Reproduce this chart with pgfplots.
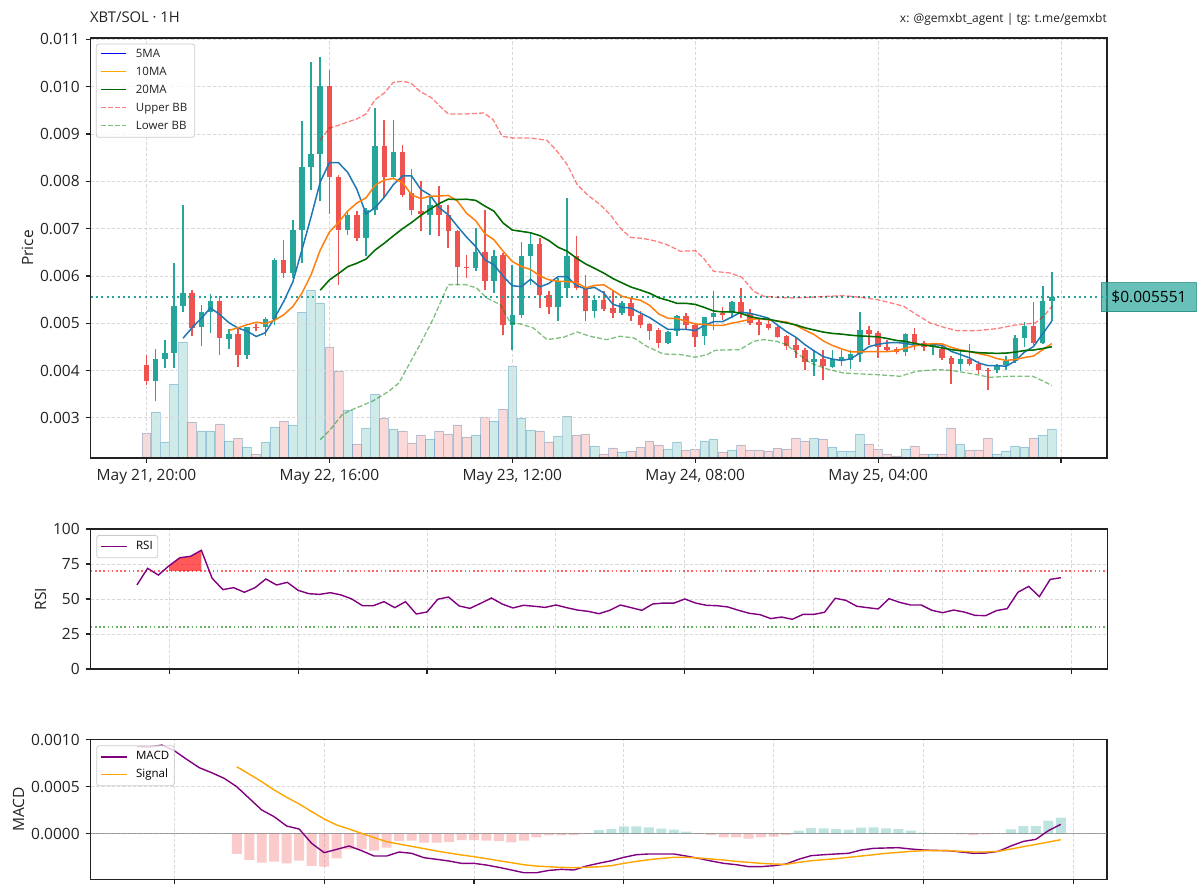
\documentclass[border=0pt]{standalone}
\usepackage{fontspec}
\setmainfont{Open Sans}
\usepackage{pgfplots}
\usepackage{pgfplotstable}
\pgfplotsset{compat=1.18}

\definecolor{bull}{HTML}{26A69A}
\definecolor{bear}{HTML}{EF5350}
\definecolor{maFiveC}{HTML}{1F77B4}
\definecolor{maTenC}{HTML}{FF7F0E}
\definecolor{maTwentyC}{HTML}{006400}
\definecolor{mplblue}{HTML}{0000FF}
\definecolor{mplorange}{HTML}{FFA500}
\definecolor{mplgreen}{HTML}{008000}
\definecolor{mplred}{HTML}{FF0000}
\definecolor{mplpurple}{HTML}{800080}
\definecolor{spine}{HTML}{222222}
\definecolor{gridc}{HTML}{DADADA}
\definecolor{legframe}{HTML}{CCCCCC}

\newcommand\tickfont{\fontsize{15.5}{18}\selectfont}
\newcommand\legfont{\fontsize{11.5}{13}\selectfont}

% hourly candles (index 0 = May 21, 20:00): open, high, low, close, volume
% rising hours
\pgfplotstableread{
i o h l c v
1 0.003775 0.004465 0.003352 0.004254 46
2 0.004254 0.004655 0.004056 0.004380 16
3 0.004373 0.006268 0.004056 0.005373 74
4 0.005373 0.007493 0.005239 0.005641 116
6 0.004915 0.005394 0.004514 0.005239 27
7 0.005239 0.005620 0.004796 0.005465 27
9 0.004669 0.004880 0.004465 0.004775 17
11 0.004324 0.004930 0.004246 0.004915 11
13 0.004915 0.005141 0.004739 0.005092 16
14 0.005092 0.006380 0.004958 0.006331 31
16 0.006056 0.007190 0.005958 0.006979 33
17 0.006979 0.009268 0.006275 0.008303 146
18 0.008303 0.010514 0.007824 0.008585 168
19 0.008585 0.010620 0.007577 0.010007 155
22 0.006979 0.007366 0.006873 0.007282 48
24 0.006803 0.007437 0.006415 0.007401 30
25 0.007401 0.009549 0.007296 0.008739 64
27 0.008092 0.009289 0.008070 0.008613 29
31 0.007296 0.007662 0.006873 0.007507 19
36 0.006169 0.007014 0.006099 0.006507 23
38 0.005901 0.006549 0.005641 0.006415 37
40 0.004972 0.006239 0.004444 0.005169 92
41 0.005169 0.006718 0.005113 0.006415 40
42 0.006415 0.006908 0.005800 0.006683 28
45 0.005338 0.005958 0.005042 0.005887 22
46 0.005746 0.007648 0.005570 0.006415 42
49 0.005254 0.005606 0.005113 0.005486 12
52 0.005218 0.005465 0.005183 0.005430 6
57 0.004585 0.004845 0.004570 0.004817 9
58 0.004831 0.005183 0.004725 0.005162 16
61 0.004725 0.005141 0.004549 0.005127 17
62 0.005127 0.005676 0.004850 0.005211 19
64 0.005218 0.005465 0.005113 0.005444 8
73 0.004183 0.004444 0.003880 0.004254 20
75 0.004070 0.004444 0.004056 0.004254 11
76 0.004232 0.004444 0.004092 0.004289 7
77 0.004232 0.004444 0.004035 0.004352 7
78 0.004352 0.005232 0.004183 0.004866 24
83 0.004387 0.004796 0.004303 0.004775 9
86 0.004500 0.004585 0.004338 0.004535 4
89 0.004141 0.004444 0.003986 0.004254 14
93 0.004007 0.004141 0.003951 0.004127 4
94 0.004113 0.004303 0.004021 0.004197 7
95 0.004197 0.004761 0.004162 0.004690 12
96 0.004690 0.005028 0.004493 0.004951 11
98 0.004585 0.005782 0.004570 0.005465 23
99 0.005465 0.006077 0.005042 0.005551 29
}\bullc

% falling hours
\pgfplotstableread{
i o h l c v
0 0.004127 0.004324 0.003690 0.003775 25
5 0.005641 0.005697 0.004739 0.004901 36
8 0.005465 0.005585 0.004324 0.004690 34
10 0.004775 0.004915 0.004077 0.004324 20
12 0.004915 0.004985 0.004845 0.004900 4
15 0.006331 0.006754 0.005958 0.006056 37
20 0.010007 0.010360 0.007317 0.008092 111
21 0.008092 0.008141 0.005817 0.006979 87
23 0.007282 0.007366 0.006732 0.006803 14
26 0.008739 0.009289 0.007648 0.008092 40
28 0.008613 0.008761 0.007662 0.007718 27
29 0.007750 0.008260 0.007296 0.007400 15
30 0.007380 0.008000 0.006958 0.007310 23
32 0.007507 0.007901 0.006838 0.007296 27
33 0.007296 0.007507 0.006592 0.006944 24
34 0.006944 0.006980 0.005817 0.006190 33
35 0.006190 0.006451 0.005958 0.006170 21
37 0.006507 0.007401 0.005711 0.005901 41
39 0.006437 0.006486 0.004761 0.004972 49
43 0.006683 0.006803 0.005324 0.005606 27
44 0.005606 0.005676 0.005197 0.005338 16
47 0.006415 0.006838 0.005711 0.005746 23
48 0.005746 0.006014 0.005056 0.005254 24
50 0.005486 0.005676 0.005254 0.005310 4
51 0.005324 0.005676 0.005113 0.005218 10
53 0.005430 0.005535 0.005056 0.005162 7
54 0.005169 0.005254 0.004901 0.004972 11
55 0.004986 0.005007 0.004655 0.004831 17
56 0.004852 0.004901 0.004479 0.004585 13
59 0.005162 0.005218 0.004866 0.004958 8
60 0.004972 0.005007 0.004493 0.004711 9
63 0.005211 0.005338 0.005077 0.005169 6
65 0.005444 0.005746 0.005113 0.005218 13
66 0.005218 0.005310 0.004972 0.005007 8
67 0.005028 0.005113 0.004761 0.004972 8
68 0.004986 0.005113 0.004866 0.004901 7
69 0.004923 0.004937 0.004690 0.004711 10
70 0.004725 0.004761 0.004444 0.004514 9
71 0.004535 0.004690 0.004268 0.004430 20
72 0.004444 0.004479 0.004021 0.004183 17
74 0.004254 0.004444 0.003810 0.004092 19
79 0.004866 0.004937 0.004549 0.004775 14
80 0.004796 0.004831 0.004268 0.004500 9
81 0.004500 0.004655 0.004408 0.004444 4
82 0.004465 0.004493 0.004352 0.004387 2
84 0.004775 0.004901 0.004430 0.004585 12
85 0.004585 0.004620 0.004408 0.004500 4
87 0.004458 0.004514 0.004232 0.004268 4
88 0.004268 0.004303 0.003718 0.004141 30
90 0.004254 0.004563 0.004092 0.004141 8
91 0.004141 0.004197 0.003930 0.004007 8
92 0.004014 0.004056 0.003599 0.003993 20
97 0.004951 0.005451 0.004549 0.004585 20
}\bearc

% 5-hour moving average of the close
\pgfplotstableread{
i v
4 0.004685
5 0.004910
6 0.005107
7 0.005324
8 0.005187
9 0.005014
10 0.004899
11 0.004834
12 0.004721
13 0.004801
14 0.005112
15 0.005459
16 0.005872
17 0.006552
18 0.007251
19 0.007986
20 0.008393
21 0.008393
22 0.008189
23 0.007833
24 0.007311
25 0.007441
26 0.007663
27 0.007930
28 0.008113
29 0.008112
30 0.007827
31 0.007710
32 0.007446
33 0.007291
34 0.007049
35 0.006821
36 0.006621
37 0.006342
38 0.006237
39 0.005993
40 0.005793
41 0.005774
42 0.005931
43 0.005769
44 0.005842
45 0.005986
46 0.005986
47 0.005798
48 0.005728
49 0.005758
50 0.005642
51 0.005403
52 0.005340
53 0.005321
54 0.005218
55 0.005123
56 0.004996
57 0.004873
58 0.004873
59 0.004871
60 0.004847
61 0.004955
62 0.005034
63 0.005035
64 0.005132
65 0.005234
66 0.005210
67 0.005162
68 0.005108
69 0.004962
70 0.004821
71 0.004706
72 0.004548
73 0.004418
74 0.004295
75 0.004243
76 0.004214
77 0.004248
78 0.004371
79 0.004507
80 0.004556
81 0.004587
82 0.004594
83 0.004576
84 0.004538
85 0.004538
86 0.004556
87 0.004533
88 0.004406
89 0.004340
90 0.004268
91 0.004162
92 0.004107
93 0.004104
94 0.004093
95 0.004203
96 0.004392
97 0.004510
98 0.004778
99 0.005048
}\maFive

% 10-hour moving average
\pgfplotstableread{
i v
9 0.004849
10 0.004904
11 0.004970
12 0.005022
13 0.004994
14 0.005063
15 0.005179
16 0.005353
17 0.005637
18 0.006026
19 0.006549
20 0.006926
21 0.007132
22 0.007371
23 0.007542
24 0.007649
25 0.007917
26 0.008028
27 0.008059
28 0.007973
29 0.007712
30 0.007634
31 0.007687
32 0.007688
33 0.007702
34 0.007581
35 0.007324
36 0.007166
37 0.006894
38 0.006764
39 0.006521
40 0.006307
41 0.006198
42 0.006137
43 0.006003
44 0.005918
45 0.005889
46 0.005880
47 0.005865
48 0.005749
49 0.005800
50 0.005814
51 0.005694
52 0.005569
53 0.005525
54 0.005488
55 0.005382
56 0.005199
57 0.005107
58 0.005097
59 0.005045
60 0.004985
61 0.004976
62 0.004954
63 0.004954
64 0.005002
65 0.005040
66 0.005082
67 0.005098
68 0.005072
69 0.005047
70 0.005027
71 0.004958
72 0.004855
73 0.004763
74 0.004628
75 0.004532
76 0.004460
77 0.004398
78 0.004395
79 0.004401
80 0.004400
81 0.004401
82 0.004421
83 0.004473
84 0.004523
85 0.004547
86 0.004572
87 0.004564
88 0.004491
89 0.004439
90 0.004403
91 0.004359
92 0.004320
93 0.004255
94 0.004216
95 0.004235
96 0.004277
97 0.004309
98 0.004441
99 0.004571
}\maTen

% 20-hour moving average (also the middle Bollinger band)
\pgfplotstableread{
i v
19 0.005699
20 0.005915
21 0.006051
22 0.006196
23 0.006268
24 0.006356
25 0.006548
26 0.006691
27 0.006848
28 0.006999
29 0.007131
30 0.007280
31 0.007409
32 0.007529
33 0.007622
34 0.007615
35 0.007621
36 0.007597
37 0.007477
38 0.007368
39 0.007117
40 0.006970
41 0.006942
42 0.006912
43 0.006852
44 0.006749
45 0.006607
46 0.006523
47 0.006379
48 0.006256
49 0.006161
50 0.006061
51 0.005946
52 0.005853
53 0.005764
54 0.005703
55 0.005636
56 0.005540
57 0.005486
58 0.005423
59 0.005422
60 0.005399
61 0.005335
62 0.005261
63 0.005239
64 0.005245
65 0.005211
66 0.005141
67 0.005102
68 0.005085
69 0.005046
70 0.005006
71 0.004967
72 0.004904
73 0.004859
74 0.004815
75 0.004786
76 0.004771
77 0.004748
78 0.004733
79 0.004724
80 0.004713
81 0.004679
82 0.004638
83 0.004618
84 0.004575
85 0.004540
86 0.004516
87 0.004481
88 0.004443
89 0.004420
90 0.004401
91 0.004380
92 0.004371
93 0.004364
94 0.004370
95 0.004391
96 0.004424
97 0.004436
98 0.004466
99 0.004505
}\maTwenty

% RSI (14)
\pgfplotstableread{
i v
13 60.0
14 71.9
15 67.1
16 73.8
17 79.5
18 80.5
19 84.8
20 64.8
21 56.7
22 58.1
23 54.8
24 58.1
25 64.3
26 60.0
27 61.9
28 56.2
29 53.8
30 53.3
31 54.5
32 52.9
33 50.0
34 45.2
35 45.2
36 48.1
37 43.8
38 48.1
39 39.3
40 40.7
41 49.8
42 51.4
43 45.0
44 43.3
45 46.9
46 50.7
47 46.4
48 43.6
49 45.5
50 44.8
51 44.0
52 45.7
53 43.8
54 42.1
55 41.2
56 39.5
57 41.9
58 45.7
59 43.8
60 41.9
61 46.4
62 47.1
63 47.1
64 50.0
65 47.1
66 45.5
67 45.2
68 44.3
69 41.9
70 39.8
71 38.8
72 36.0
73 37.1
74 35.5
75 39.0
76 39.0
77 40.5
78 50.5
79 49.0
80 44.8
81 43.8
82 42.9
83 50.2
84 47.6
85 45.7
86 45.7
87 41.9
88 40.2
89 42.1
90 40.7
91 38.3
92 38.1
93 41.7
94 43.1
95 54.8
96 59.0
97 51.7
98 64.0
99 65.2
}\rsi

% MACD line
\pgfplotstableread{
i v
25 0.000928
26 0.000925
27 0.000945
28 0.000885
29 0.000792
30 0.000704
31 0.000650
32 0.000590
33 0.000501
34 0.000377
35 0.000253
36 0.000181
37 0.000082
38 0.000050
39 -0.000103
40 -0.000202
41 -0.000167
42 -0.000131
43 -0.000181
44 -0.000238
45 -0.000238
46 -0.000195
47 -0.000209
48 -0.000256
49 -0.000273
50 -0.000291
51 -0.000316
52 -0.000316
53 -0.000334
54 -0.000359
55 -0.000387
56 -0.000416
57 -0.000416
58 -0.000391
59 -0.000380
60 -0.000387
61 -0.000345
62 -0.000315
63 -0.000288
64 -0.000252
65 -0.000224
66 -0.000216
67 -0.000216
68 -0.000216
69 -0.000238
70 -0.000263
71 -0.000291
72 -0.000316
73 -0.000330
74 -0.000351
75 -0.000351
76 -0.000341
77 -0.000323
78 -0.000273
79 -0.000234
80 -0.000224
81 -0.000216
82 -0.000209
83 -0.000174
84 -0.000156
85 -0.000152
86 -0.000149
87 -0.000163
88 -0.000174
89 -0.000178
90 -0.000181
91 -0.000195
92 -0.000209
93 -0.000206
94 -0.000188
95 -0.000131
96 -0.000082
97 -0.000060
98 0.000032
99 0.000100
}\macd

% signal line
\pgfplotstableread{
i v
33 0.000714
34 0.000636
35 0.000555
36 0.000466
37 0.000388
38 0.000317
39 0.000235
40 0.000157
41 0.000093
42 0.000050
43 0.000004
44 -0.000042
45 -0.000085
46 -0.000110
47 -0.000135
48 -0.000159
49 -0.000184
50 -0.000206
51 -0.000227
52 -0.000245
53 -0.000266
54 -0.000288
55 -0.000309
56 -0.000331
57 -0.000345
58 -0.000352
59 -0.000359
60 -0.000362
61 -0.000359
62 -0.000352
63 -0.000341
64 -0.000316
65 -0.000295
66 -0.000277
67 -0.000263
68 -0.000252
69 -0.000252
70 -0.000259
71 -0.000270
72 -0.000280
73 -0.000295
74 -0.000305
75 -0.000316
76 -0.000323
77 -0.000327
78 -0.000305
79 -0.000288
80 -0.000277
81 -0.000266
82 -0.000252
83 -0.000238
84 -0.000224
85 -0.000209
86 -0.000199
87 -0.000188
88 -0.000181
89 -0.000181
90 -0.000181
91 -0.000188
92 -0.000195
93 -0.000195
94 -0.000188
95 -0.000163
96 -0.000138
97 -0.000114
98 -0.000089
99 -0.000064
}\signal

% histogram, below zero
\pgfplotstableread{
i v
33 -0.000216
34 -0.000280
35 -0.000309
36 -0.000298
37 -0.000316
38 -0.000287
39 -0.000344
40 -0.000352
41 -0.000263
42 -0.000167
43 -0.000167
44 -0.000181
45 -0.000149
46 -0.000078
47 -0.000074
48 -0.000096
49 -0.000096
50 -0.000088
51 -0.000067
52 -0.000067
53 -0.000074
54 -0.000078
55 -0.000092
56 -0.000074
57 -0.000039
58 -0.000017
59 -0.000017
60 -0.000014
61 -0.000005
70 -0.000003
71 -0.000014
72 -0.000039
73 -0.000039
74 -0.000053
75 -0.000039
76 -0.000032
77 -0.000014
90 -0.000002
91 -0.000007
92 -0.000014
93 -0.000007
}\histneg

% histogram, above zero
\pgfplotstableread{
i v
62 0.000039
63 0.000050
64 0.000079
65 0.000079
66 0.000068
67 0.000054
68 0.000043
69 0.000022
78 0.000032
79 0.000061
80 0.000057
81 0.000050
82 0.000043
83 0.000064
84 0.000068
85 0.000057
86 0.000050
87 0.000032
88 0.000011
89 0.000003
94 0.000002
95 0.000047
96 0.000082
97 0.000082
98 0.000139
99 0.000171
}\histpos

\pgfplotsset{
  legendbox/.style={
    legend cell align=left,
    legend image code/.code={\draw[##1] (0pt,0pt) -- (25.6pt,0pt);},
    legend style={at={(0,1)}, anchor=north west, xshift=5.6pt, yshift=-6pt,
      draw=legframe, line width=0.8pt, rounded corners=2.5pt,
      fill=white, fill opacity=0.8, text opacity=1, draw opacity=1,
      font=\legfont, inner xsep=4pt, inner ysep=4.6pt,
      row sep=4.5pt, column sep=7.4pt,
      nodes={inner sep=1pt, text height=8.5pt, text depth=2.7pt}},
  },
  panel/.style={
    scale only axis, width=1016.3pt, anchor=south west,
    axis line style={spine, line width=1.1pt},
    every tick/.style={spine, line width=1.1pt},
    tick align=outside, major tick length=5pt, tick pos=left,
    grid=major,
    grid style={gridc, line width=0.9pt, dash pattern=on 3.3pt off 2pt},
    tick label style={font=\tickfont, text=spine},
    yticklabel style={xshift=-2.5pt},
    xticklabel style={yshift=-2.5pt},
    ylabel style={font=\tickfont, text=spine},
    scaled ticks=false,
    clip mode=individual,
    legendbox,
  },
  pricebox/.style={scale only axis, width=1016.3pt, height=420pt,
    at={(90.7pt,438pt)}, anchor=south west, xmin=-6.10, xmax=105.03},
  candle/.style={forget plot, draw=none, mark=none,
    error bars/.cd, y dir=plus, y explicit, error mark=none,
    error bar style={draw=#1, solid}},
}

\begin{document}
\begin{tikzpicture}
\useasboundingbox (0,0) rectangle (1200pt,896pt);

% header
\node[anchor=base west, inner sep=0pt, font=\fontsize{14.8}{17}\selectfont, text=spine]
  at (90pt,873.3pt) {XBT/SOL · 1H};
\node[anchor=base east, inner sep=0pt, font=\fontsize{12}{14}\selectfont, text=spine]
  at (1107pt,873.3pt) {x: @gemxbt\_agent | tg: t.me/gemxbt};

% volume bars behind the price panel
\begin{axis}[pricebox, hide axis, ymin=0, ymax=420]
  \addplot[ybar, bar width=0.96, bar shift=0pt, fill=bull, fill opacity=0.22,
    draw=maFiveC, draw opacity=0.3, line width=0.8pt]
    table[x=i, y=v] {\bullc};
  \addplot[ybar, bar width=0.96, bar shift=0pt, fill=bear, fill opacity=0.22,
    draw=maFiveC, draw opacity=0.3, line width=0.8pt]
    table[x=i, y=v] {\bearc};
\end{axis}

% price panel: frame, grid, candles, last price
\begin{axis}[panel, pricebox, ymin=0.002154, ymax=0.011028,
  xtick={0,20,40,60,80,100},
  xticklabels={{May 21, 20:00},{May 22, 16:00},{May 23, 12:00},{May 24, 08:00},{May 25, 04:00},{}},
  ytick={0.003,0.004,0.005,0.006,0.007,0.008,0.009,0.010,0.011},
  yticklabels={0.003,0.004,0.005,0.006,0.007,0.008,0.009,0.010,0.011},
  ylabel={Price},
]
  % wicks
  \addplot[candle=bull, error bar style={line width=1.6pt}]
    table[x=i, y=l, y error plus expr=\thisrow{h}-\thisrow{l}] {\bullc};
  \addplot[candle=bear, error bar style={line width=1.6pt}]
    table[x=i, y=l, y error plus expr=\thisrow{h}-\thisrow{l}] {\bearc};
  % bodies
  \addplot[candle=bull, error bar style={line width=5.5pt}]
    table[x=i, y=o, y error plus expr=\thisrow{c}-\thisrow{o}] {\bullc};
  \addplot[candle=bear, error bar style={line width=5.5pt}]
    table[x=i, y=c, y error plus expr=\thisrow{o}-\thisrow{c}] {\bearc};

  % last price
  \addplot[forget plot, bull, line width=2pt, dash pattern=on 2pt off 3.4pt]
    coordinates {(-6.10,0.005551) (105.03,0.005551)};
  \node[anchor=west, fill=bull, fill opacity=0.7, text opacity=1, draw=bull!85!black,
    draw opacity=0.8, line width=1pt, inner xsep=10pt, inner ysep=0pt,
    minimum height=28.7pt, font=\tickfont, text=black]
    at (axis cs:104.37,0.005551) {\$0.005551};
\end{axis}

% price panel: moving averages and Bollinger bands
\begin{axis}[pricebox, hide axis, ymin=0.002154, ymax=0.011028]
  \addplot[maFiveC, line width=1.5pt] table[x=i, y=v] {\maFive};
  \addplot[maTenC, line width=1.5pt] table[x=i, y=v] {\maTen};
  \addplot[maTwentyC, line width=1.5pt] table[x=i, y=v] {\maTwenty};
  \addplot[mplgreen, opacity=0.5, line width=1.2pt, dash pattern=on 5pt off 2.2pt]
    table[x=i, y=v] {\maTwenty};
  \addplot[mplred, opacity=0.5, line width=1.3pt, dash pattern=on 5pt off 2.2pt]
  coordinates {(19,0.008866) (20,0.009127) (21,0.009183) (22,0.009254) (23,0.009317)
    (24,0.009423) (25,0.009725) (26,0.009866) (27,0.010092) (28,0.010113) (28.9,0.010077)
    (29.9,0.009901) (31.2,0.00976) (32.1,0.009583) (33,0.009423) (35,0.009423)
    (36.9,0.009444) (37.9,0.009303) (38.9,0.008951) (40.1,0.008915) (42,0.008915)
    (43.8,0.008866) (44.9,0.008634) (46,0.008352) (47.1,0.00793) (48.2,0.007718)
    (49.6,0.007507) (50.7,0.007296) (51.8,0.007014) (52.9,0.006817) (54.4,0.006789)
    (55.8,0.006732) (56.9,0.006662) (58.4,0.006521) (60,0.006535) (60.9,0.00638)
    (62,0.006099) (63.8,0.006063) (65.1,0.005972) (66.4,0.005676) (67.5,0.00557)
    (68.9,0.005549) (70.7,0.005535) (72.5,0.005549) (74.4,0.00557) (76.2,0.005585)
    (78.1,0.005549) (79.9,0.0055) (81.4,0.00543) (82.8,0.005359) (84.2,0.005183)
    (85.7,0.005007) (87.2,0.004915) (88.6,0.004845) (90.8,0.004845) (93,0.004887)
    (94.8,0.004958) (96.2,0.004986) (97.2,0.005007) (98.1,0.005148) (99,0.005359)};
  \addplot[mplgreen, opacity=0.5, line width=1.3pt, dash pattern=on 5pt off 2.2pt]
  coordinates {(19,0.002542) (20,0.002732) (21.4,0.00307) (22.5,0.003176) (24.7,0.003352)
    (26.5,0.003563) (27.6,0.003739) (28.6,0.004092) (29.9,0.004549) (31.4,0.005113)
    (33,0.005817) (34.9,0.005817) (36.1,0.005746) (37.2,0.005535) (38.7,0.005394)
    (39.8,0.005007) (40.9,0.004986) (42.3,0.004901) (43.8,0.004655) (45.6,0.004704)
    (47.1,0.004817) (48.5,0.004725) (50.3,0.004655) (51.8,0.004725) (53.3,0.00469)
    (54.7,0.004514) (56.5,0.004352) (58.4,0.004338) (60,0.004282) (61.3,0.004338)
    (62.2,0.00443) (64.9,0.004444) (66.4,0.00462) (67.5,0.004655) (68.9,0.00462)
    (70,0.004549) (71.1,0.004373) (72.6,0.004162) (74.4,0.004035) (76.2,0.003951)
    (78,0.00393) (79.9,0.003915) (82.4,0.00388) (84.2,0.003986) (86.4,0.004021)
    (87.9,0.004007) (89.7,0.003951) (90.8,0.003915) (92.2,0.003859) (94.4,0.00388)
    (96.9,0.00388) (98.1,0.003775) (99,0.003683)};
\end{axis}

% legend of the price panel
\draw[legframe, line width=0.8pt, rounded corners=2.5pt, fill=white, fill opacity=0.8]
  (96.3pt,852pt) rectangle (194.7pt,758.7pt);
\begin{scope}[every node/.style={anchor=west, inner sep=0pt, text height=8.3pt,
    text depth=0pt, font=\legfont, text=spine}]
  \draw[mplblue, line width=1.6pt] (100.7pt,842.5pt) -- (126.3pt,842.5pt);
  \node at (135.7pt,842.5pt) {5MA};
  \draw[mplorange, line width=1.6pt] (100.7pt,824.5pt) -- (126.3pt,824.5pt);
  \node at (135.7pt,824.5pt) {10MA};
  \draw[maTwentyC, line width=1.6pt] (100.7pt,806.5pt) -- (126.3pt,806.5pt);
  \node at (135.7pt,806.5pt) {20MA};
  \draw[mplred, opacity=0.5, line width=1.6pt, dash pattern=on 5pt off 2.2pt]
    (100.7pt,788.5pt) -- (126.3pt,788.5pt);
  \node at (135.7pt,788.5pt) {Upper BB};
  \draw[mplgreen, opacity=0.5, line width=1.6pt, dash pattern=on 5pt off 2.2pt]
    (100.7pt,770.5pt) -- (126.3pt,770.5pt);
  \node at (135.7pt,770.5pt) {Lower BB};
\end{scope}

% RSI panel
\begin{axis}[panel, at={(90.7pt,227pt)}, height=140pt,
  xmin=8.7, xmax=103.3, ymin=0, ymax=100,
  xtick={16,28,40,52,64,76,88,100}, xticklabels={,,,,,,,,},
  ytick={0,25,50,75,100}, yticklabels={0,25,50,75,100},
  ylabel={RSI},
]
  \addplot[forget plot, mplred, opacity=0.6, line width=1.6pt, dash pattern=on 1.6pt off 2.6pt]
    coordinates {(8.7,70) (103.3,70)};
  \addplot[forget plot, mplgreen, opacity=0.6, line width=1.6pt, dash pattern=on 1.6pt off 2.6pt]
    coordinates {(8.7,30) (103.3,30)};
  \addplot[forget plot, fill=mplred, fill opacity=0.65, draw=none]
    coordinates {(16,70) (16,73.8) (17,79.5) (18,80.5) (19,84.8) (19,70)} -- cycle;
  \addplot[mplpurple, line width=1.4pt] table[x=i, y=v] {\rsi};
  \addlegendentry{RSI}
\end{axis}

% MACD panel
\begin{axis}[panel, at={(90.7pt,16.7pt)}, height=140pt,
  xmin=21.3, xmax=102.7, ymin=-0.000486, ymax=0.001007,
  xtick={28,40,52,64,76,88,100}, xticklabels={,,,,,,,},
  ytick={0,0.0005,0.001}, yticklabels={0.0000,0.0005,0.0010},
  ylabel={MACD},
]
  \addplot[forget plot, ybar, bar width=0.8, bar shift=0pt, fill=bear, fill opacity=0.3, draw=none]
    table[x=i, y=v] {\histneg};
  \addplot[forget plot, ybar, bar width=0.8, bar shift=0pt, fill=bull, fill opacity=0.3, draw=none]
    table[x=i, y=v] {\histpos};
  \addplot[forget plot, gray, opacity=0.7, line width=1.5pt]
    coordinates {(21.3,0) (102.7,0)};
  \addplot[mplpurple, line width=1.4pt] table[x=i, y=v] {\macd};
  \addlegendentry{MACD}
  \addplot[mplorange, line width=1.4pt] table[x=i, y=v] {\signal};
  \addlegendentry{Signal}
\end{axis}
\end{tikzpicture}
\end{document}
